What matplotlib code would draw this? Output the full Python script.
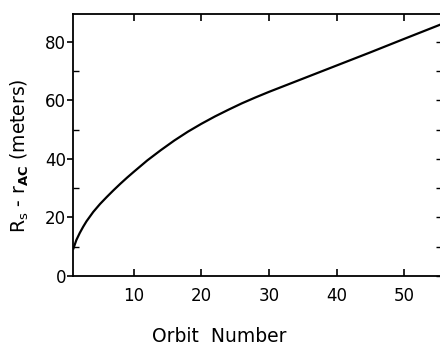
import matplotlib

matplotlib.use("Agg")
import matplotlib.pyplot as plt
from matplotlib.ticker import MultipleLocator

# orbit number vs. R_s - r_AC (meters)
orbit = [1, 1.5, 2, 2.5, 3, 4, 5, 6, 7, 8, 9, 10, 12, 14, 16, 18, 20, 22, 24,
         26, 28, 30, 32, 35, 37, 40, 42, 45, 50, 55.6]
offset = [9.0, 12.3, 14.7, 16.8, 18.7, 21.9, 24.6, 27.0, 29.3, 31.5, 33.6,
          35.6, 39.5, 43.0, 46.3, 49.3, 52.0, 54.5, 56.8, 59.0, 61.0, 62.9,
          64.7, 67.4, 69.2, 71.9, 73.7, 76.4, 81.0, 86.1]

x_ticks = [10, 20, 30, 40, 50]
y_ticks = [0, 20, 40, 60, 80]

plt.rcParams["font.family"] = ["DejaVu Sans"]

fig = plt.figure(figsize=(4.40, 3.47), dpi=100)
ax = fig.add_axes([73 / 440, 71 / 347, 369 / 440, 262 / 347])

ax.plot(orbit, offset, color="black", linewidth=1.6, solid_capstyle="butt")
ax.set_xlim(1, 55.6)
ax.set_ylim(0, 89.5)

ax.set_xticks(x_ticks)
ax.set_yticks(y_ticks)
ax.yaxis.set_minor_locator(MultipleLocator(10))
ax.tick_params(axis="x", which="major", direction="in", top=True, length=5,
               width=1.2, labelsize=12, pad=8)
ax.tick_params(axis="y", which="major", direction="out", length=4, width=1.2,
               labelsize=12, pad=1)
ax.tick_params(axis="y", which="minor", direction="in", length=4, width=1.0)

# inward ticks on the right-hand side
ax_r = ax.twinx()
ax_r.set_ylim(ax.get_ylim())
ax_r.yaxis.set_major_locator(MultipleLocator(10))
ax_r.tick_params(axis="y", direction="in", length=4, width=1.0, labelright=False)
for side in ("top", "bottom", "left", "right"):
    ax_r.spines[side].set_visible(False)

for spine in ax.spines.values():
    spine.set_linewidth(1.3)
ax.spines["right"].set_visible(False)

fig.text(20 / 440, 1 - 156 / 347, r"R$_\mathrm{s}$ - r$_\mathbf{AC}$ (meters)",
         rotation=90, ha="center", va="center", fontsize=13.5)
fig.text(219 / 440, 1 - 336 / 347, "Orbit  Number", ha="center", va="center",
         fontsize=13.5)

fig.savefig("out.png", dpi=100)
